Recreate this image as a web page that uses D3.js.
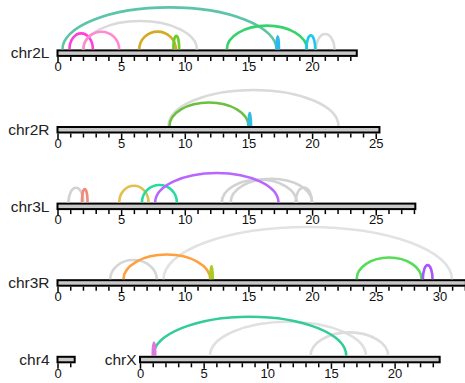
<!DOCTYPE html>
<html>
<head>
<meta charset="utf-8">
<script src="https://cdn.jsdelivr.net/npm/d3@7"></script>
<style>
  body { margin: 0; background: #fff; }
  svg { display: block; font-family: "Liberation Sans", Arial, sans-serif; }
  .tick line { stroke: #000; stroke-width: 1.5; }
  .tick text { font-size: 13px; fill: #111; }
</style>
</head>
<body>
<svg id="chart" width="465" height="383"></svg>
<script>
// chromosomes (Mb)
var chromNames   = ["chr2L", "chr2R", "chr3L", "chr3R", "chr4", "chrX"];
var chromLengths = [23.51, 25.29, 28.11, 32.08, 1.35, 23.54];
var chromRow     = [0, 1, 2, 3, 4, 4];
var chromCol     = [0, 0, 0, 0, 0, 1];

// links (start / end in Mb on the same chromosome)
var linkChrom = ["chr2L", "chr2L", "chr2L", "chr2L", "chr2L", "chr2L", "chr2L", "chr2L", "chr2L", "chr2L",
                 "chr2R", "chr2R", "chr2R",
                 "chr3L", "chr3L", "chr3L", "chr3L", "chr3L", "chr3L", "chr3L", "chr3L",
                 "chr3R", "chr3R", "chr3R", "chr3R", "chr3R", "chr3R",
                 "chrX", "chrX", "chrX", "chrX"];
var linkStart = [2.0, 20.3, 0.39, 0.94, 2.04, 6.42, 9.1, 13.3, 17.2, 19.55,
                 8.72, 8.8, 15.0,
                 0.86, 12.9, 13.6, 18.7, 1.92, 4.85, 6.63, 7.67,
                 4.14, 8.33, 5.18, 12.0, 23.5, 28.7,
                 5.5, 13.4, 1.05, 1.0];
var linkEnd   = [10.95, 21.76, 17.2, 2.78, 4.85, 9.3, 9.56, 19.6, 17.4, 20.25,
                 22.07, 15.0, 15.2,
                 2.04, 18.8, 20.0, 20.0, 2.36, 7.15, 9.38, 17.36,
                 7.8, 30.98, 12.0, 12.2, 28.6, 29.46,
                 17.75, 19.5, 16.2, 1.2];
var linkColors = ["#dadada", "#dadada", "#5cc4a8", "#ff3fd8", "#ff8ad0", "#d4aa22", "#6ccc2a", "#35d36a", "#2fb8f0", "#1ec8f0",
                  "#dadada", "#6cc040", "#33bbe0",
                  "#d2d2d2", "#d2d2d2", "#d2d2d2", "#d2d2d2", "#f08a7a", "#e0c050", "#22dd9e", "#b866ff",
                  "#d6d6d6", "#e2e2e2", "#ffa040", "#aacc22", "#55dd55", "#aa55ff",
                  "#e0e0e0", "#dcdcdc", "#33cc99", "#dd77dd"];

var pxPerMb = 12.73;
var colStart = [57.5, 140];
var rowTop = function(r) { return 49.4 + r * 76.6; };

var svg = d3.select("#chart");

var arcHeight = d3.scaleLinear().domain([0, 214]).range([12.8, 42]);

var scales = {};
chromNames.forEach(function(name, i) {
    var len = chromLengths[i];
    var x = d3.scaleLinear()
        .domain([0, len])
        .range([colStart[chromCol[i]], colStart[chromCol[i]] + len * pxPerMb]);
    scales[name] = { x: x, top: rowTop(chromRow[i]) };

    var g = svg.append("g");
    var top = rowTop(chromRow[i]);

    g.append("rect")
        .attr("x", x(0))
        .attr("y", top + 1)
        .attr("width", x(len) - x(0))
        .attr("height", 5.5)
        .attr("fill", "#c8c8c8")
        .attr("stroke", "#000")
        .attr("stroke-width", 2);

    var axis = d3.axisBottom(x)
        .tickValues(d3.range(0, len + 0.001, 1))
        .tickSize(4)
        .tickPadding(1)
        .tickFormat(function(d) { return d % 5 === 0 ? d : ""; });

    var ag = g.append("g")
        .attr("transform", "translate(0," + (top + 7.5) + ")")
        .call(axis);
    ag.select(".domain").remove();
    ag.selectAll(".tick line")
        .attr("y2", function(d) { return d % 5 === 0 ? 5.5 : 4; });

    g.append("text")
        .attr("x", x(0) - (chromCol[i] === 0 ? 8 : 3.5))
        .attr("y", top + 9)
        .attr("text-anchor", "end")
        .style("font-size", "15.5px")
        .attr("fill", "#222")
        .text(name);
});

var links = linkChrom.map(function(c, i) {
    return { chrom: c, start: linkStart[i], end: linkEnd[i], color: linkColors[i] };
});

svg.append("g")
    .selectAll("path")
    .data(links)
    .enter()
    .append("path")
    .attr("d", function(d) {
        var s = scales[d.chrom];
        var x1 = s.x(d.start), x2 = s.x(d.end);
        var y = s.top;
        var rx = (x2 - x1) / 2;
        var ry = arcHeight(x2 - x1);
        return "M" + x1 + "," + y + " A" + rx + "," + ry + " 0 0 1 " + x2 + "," + y;
    })
    .attr("fill", "none")
    .attr("stroke", function(d) { return d.color; })
    .attr("stroke-width", 2.6);
</script>
</body>
</html>
